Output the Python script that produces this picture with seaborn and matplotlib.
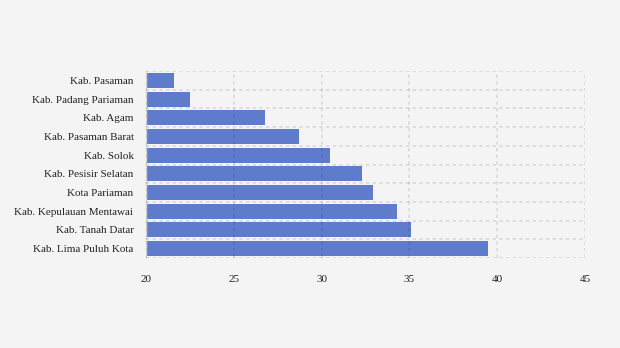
import matplotlib
matplotlib.use("Agg")
import matplotlib.pyplot as plt
import seaborn as sns
import pandas as pd
import numpy as np

categories = ["Kab. Pasaman", "Kab. Padang Pariaman", "Kab. Agam", "Kab. Pasaman Barat",
              "Kab. Solok", "Kab. Pesisir Selatan", "Kota Pariaman",
              "Kab. Kepulauan Mentawai", "Kab. Tanah Datar", "Kab. Lima Puluh Kota"]
values = [21.6, 22.5, 26.8, 28.7, 30.5, 32.3, 32.9, 34.3, 35.1, 39.5]
xticks = [20, 25, 30, 35, 40, 45]

sns.set_style("white")
plt.rcParams['font.family'] = ['Liberation Serif', 'DejaVu Serif']

df = pd.DataFrame({"cat": categories, "val": values})

fig = plt.figure(figsize=(6.2, 3.48), dpi=100, facecolor="#f4f4f4")
ax = fig.add_axes([146/620, 1 - 258/348, (585 - 146)/620, (258 - 71)/348])
ax.set_facecolor("#f4f4f4")

sns.barplot(data=df, x="val", y="cat", orient="h", color="#5f7bcb", saturation=1,
            width=0.8, ax=ax, zorder=2, edgecolor="none")

ax.set_xlim(20, 45)
ax.set_ylim(9.5, -0.5)
ax.set_xticks(xticks)
ax.set_xticklabels([str(t) for t in xticks], fontsize=8, color="#222222")
ax.set_yticks(range(len(categories)))
ax.set_yticklabels(categories, fontsize=8, color="#222222")
ax.set_yticks(np.arange(-0.5, len(categories) + 0.5, 1), minor=True)
ax.set_xlabel("")
ax.set_ylabel("")

ax.grid(False)
ax.xaxis.grid(True, which="major", linestyle=(0, (2, 2)), color="#000000", alpha=0.11,
              linewidth=1.2, zorder=3)
ax.yaxis.grid(True, which="minor", linestyle=(0, (2, 2)), color="#000000", alpha=0.11,
              linewidth=1.2, zorder=1)
ax.set_axisbelow(False)

for s in ["top", "right", "bottom"]:
    ax.spines[s].set_visible(False)
ax.spines["left"].set_color("#d8d8d8")
ax.spines["left"].set_linewidth(1)

ax.tick_params(axis="x", length=0, pad=12)
ax.tick_params(axis="y", which="major", length=6, color="#d8d8d8", pad=3)
ax.tick_params(axis="y", which="minor", length=0)

fig.savefig("out.png", dpi=100, facecolor="#f4f4f4")
